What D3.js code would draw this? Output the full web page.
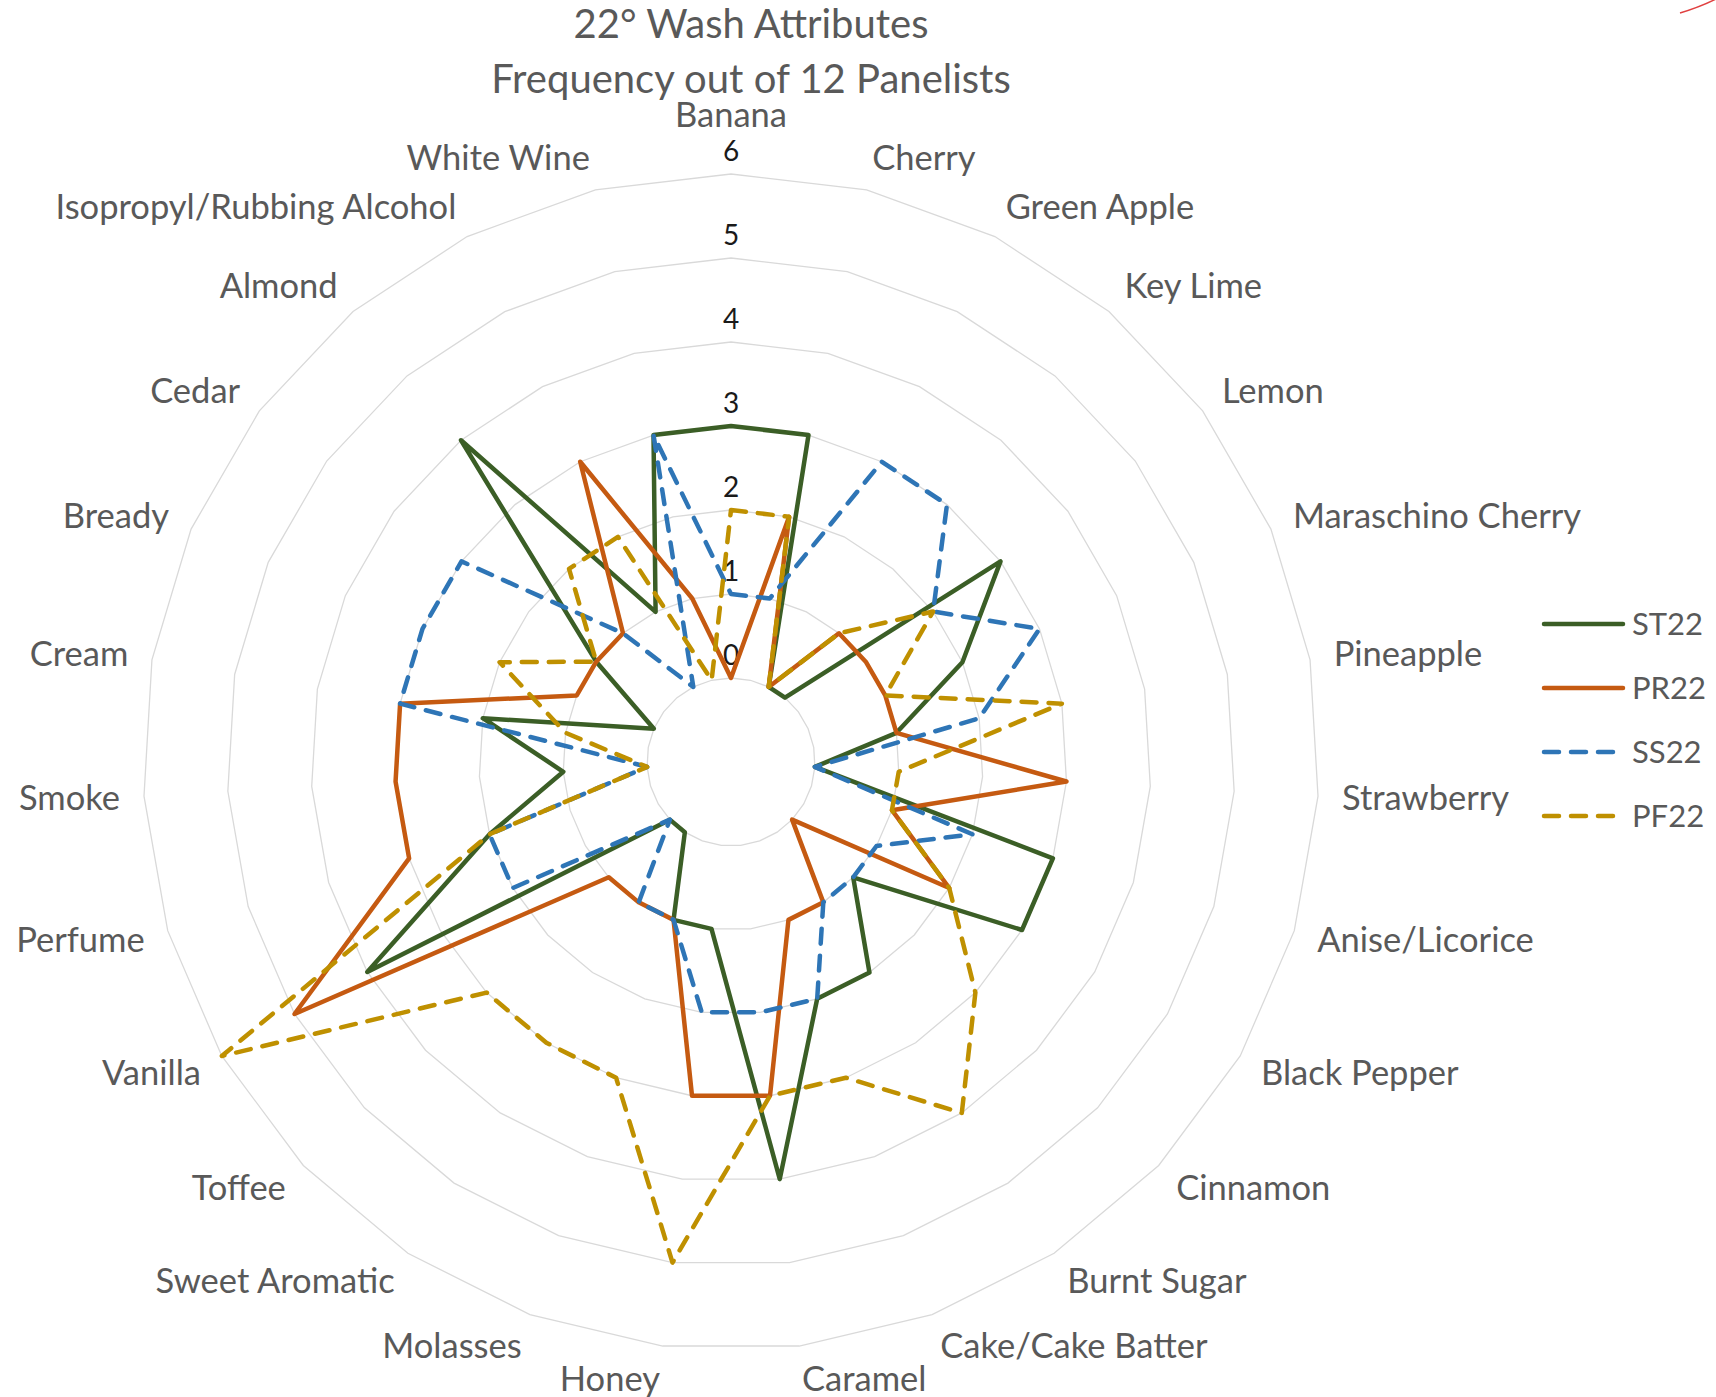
<!DOCTYPE html>
<html>
<head>
<meta charset="utf-8">
<script src="https://cdn.jsdelivr.net/npm/d3@7"></script>
<style>
  body { margin: 0; background: #fff; }
  text { font-family: Lato, "Open Sans", sans-serif; }
</style>
</head>
<body>
<svg width="1716" height="1397"></svg>
<script>
// attribute names, clockwise from the top
var categories = ["Banana", "Cherry", "Green Apple", "Key Lime", "Lemon", "Maraschino Cherry",
  "Pineapple", "Strawberry", "Anise/Licorice", "Black Pepper", "Cinnamon", "Burnt Sugar",
  "Cake/Cake Batter", "Caramel", "Honey", "Molasses", "Sweet Aromatic", "Toffee", "Vanilla",
  "Perfume", "Smoke", "Cream", "Bready", "Cedar", "Almond", "Isopropyl/Rubbing Alcohol", "White Wine"];

var seriesNames = ["ST22", "PR22", "SS22", "PF22"];
var st22 = [3, 3, 0, 0, 3, 2, 1, 0, 3, 3, 1, 2, 2, 4, 1, 1, 0, 0, 4, 2, 1, 2, 0, 1, 4, 1, 3];
var pr22 = [0, 2, 0, 1, 1, 1, 1, 3, 1, 2, 0, 1, 1, 3, 3, 1, 1, 1, 5, 3, 3, 3, 1, 1, 1, 3, 1];
var ss22 = [1, 1, 3, 3, 2, 3, 2, 0, 2, 1, 1, 1, 2, 2, 2, 1, 1, 0, 2, 2, 0, 3, 3, 3, 1, 0, 3];
var pf22 = [2, 2, 0, 1, 2, 1, 3, 1, 1, 2, 3, 4, 3, 3, 5, 3, 3, 3, 6, 2, 0, 1, 2, 1, 2, 2, 0];

var ticks = [0, 1, 2, 3, 4, 5, 6];
var titleLines = ["22\u00b0 Wash Attributes", "Frequency out of 12 Panelists"];

var svg = d3.select("svg"),
    cx = 731, cy = 762,
    R = 588;

var colors = ["#3b5e26", "#c55a11", "#2e75b6", "#bf9000"];
var dashes = [null, null, "15 12", "15 12"];

// axis min is -1 so the 0 ring sits away from the centre (as in the original)
var r = d3.scaleLinear().domain([-1, 6]).range([0, R]);
var angle = d3.scaleLinear().domain([0, categories.length]).range([0, 2 * Math.PI]);

function px(i, v) { return cx + r(v) * Math.sin(angle(i)); }
function py(i, v) { return cy - r(v) * Math.cos(angle(i)); }

var ringLine = d3.line().curve(d3.curveLinearClosed);

// grid rings
svg.append("g")
  .selectAll("path")
  .data(ticks)
  .enter().append("path")
    .attr("d", function(t) {
      return ringLine(categories.map(function(c, i) { return [px(i, t), py(i, t)]; }));
    })
    .style("fill", "none")
    .style("stroke", "#d9d9d9")
    .style("stroke-width", "1.3px");

// value labels along the top axis
svg.append("g")
  .selectAll("text")
  .data(ticks)
  .enter().append("text")
    .attr("x", cx)
    .attr("y", function(t) { return py(0, t) - 13; })
    .style("text-anchor", "middle")
    .style("font-size", "28px")
    .style("fill", "#1a1a1a")
    .text(function(t) { return t; });

// category labels
var labelR = 612;
svg.append("g")
  .selectAll("text")
  .data(categories)
  .enter().append("text")
    .attr("x", function(d, i) { return cx + labelR * Math.sin(angle(i)); })
    .attr("y", function(d, i) {
      var y = cy - labelR * Math.cos(angle(i)) - Math.cos(angle(i)) * 9;
      if (i === 0) y -= 26;  // pushed up past the tick labels
      return y;
    })
    .attr("dy", "0.35em")
    .style("text-anchor", function(d, i) {
      var s = Math.sin(angle(i));
      if (Math.abs(s) < 0.05) return "middle";
      return s > 0 ? "start" : "end";
    })
    .style("font-size", "34.5px")
    .style("fill", "#595959")
    .text(function(d) { return d; });

// series
var allSeries = [st22, pr22, ss22, pf22];
var seriesLine = d3.line()
  .x(function(v, i) { return px(i, v); })
  .y(function(v, i) { return py(i, v); })
  .curve(d3.curveLinearClosed);

svg.append("g")
  .selectAll("path")
  .data(allSeries)
  .enter().append("path")
    .attr("d", function(d) { return seriesLine(d); })
    .style("fill", "none")
    .style("stroke", function(d, k) { return colors[k]; })
    .style("stroke-width", "4.5px")
    .style("stroke-linejoin", "round")
    .style("stroke-linecap", "round")
    .style("stroke-dasharray", function(d, k) { return dashes[k]; });

// title
svg.append("g")
  .selectAll("text")
  .data(titleLines)
  .enter().append("text")
    .attr("x", 751)
    .attr("y", function(d, i) { return 24 + i * 55; })
    .attr("dy", "0.35em")
    .style("text-anchor", "middle")
    .style("font-size", "40px")
    .style("fill", "#595959")
    .text(function(d) { return d; });

// legend
var legend = svg.append("g")
  .selectAll("g")
  .data(seriesNames)
  .enter().append("g")
    .attr("transform", function(d, k) { return "translate(1542," + (624 + k * 64) + ")"; });

legend.append("line")
  .attr("x1", 2).attr("x2", 81)
  .style("stroke", function(d, k) { return colors[k]; })
  .style("stroke-width", "4.5px")
  .style("stroke-linecap", "round")
  .style("stroke-dasharray", function(d, k) { return dashes[k]; });

legend.append("text")
  .attr("x", 90)
  .attr("dy", "0.35em")
  .style("font-size", "31px")
  .style("fill", "#595959")
  .text(function(d) { return d; });

// bit of a red shape peeking in at the top right corner
svg.append("path")
  .attr("d", "M1680,13 Q1700,7 1716,-1")
  .style("fill", "none")
  .style("stroke", "#e04040")
  .style("stroke-width", "1.5px");
</script>
</body>
</html>
